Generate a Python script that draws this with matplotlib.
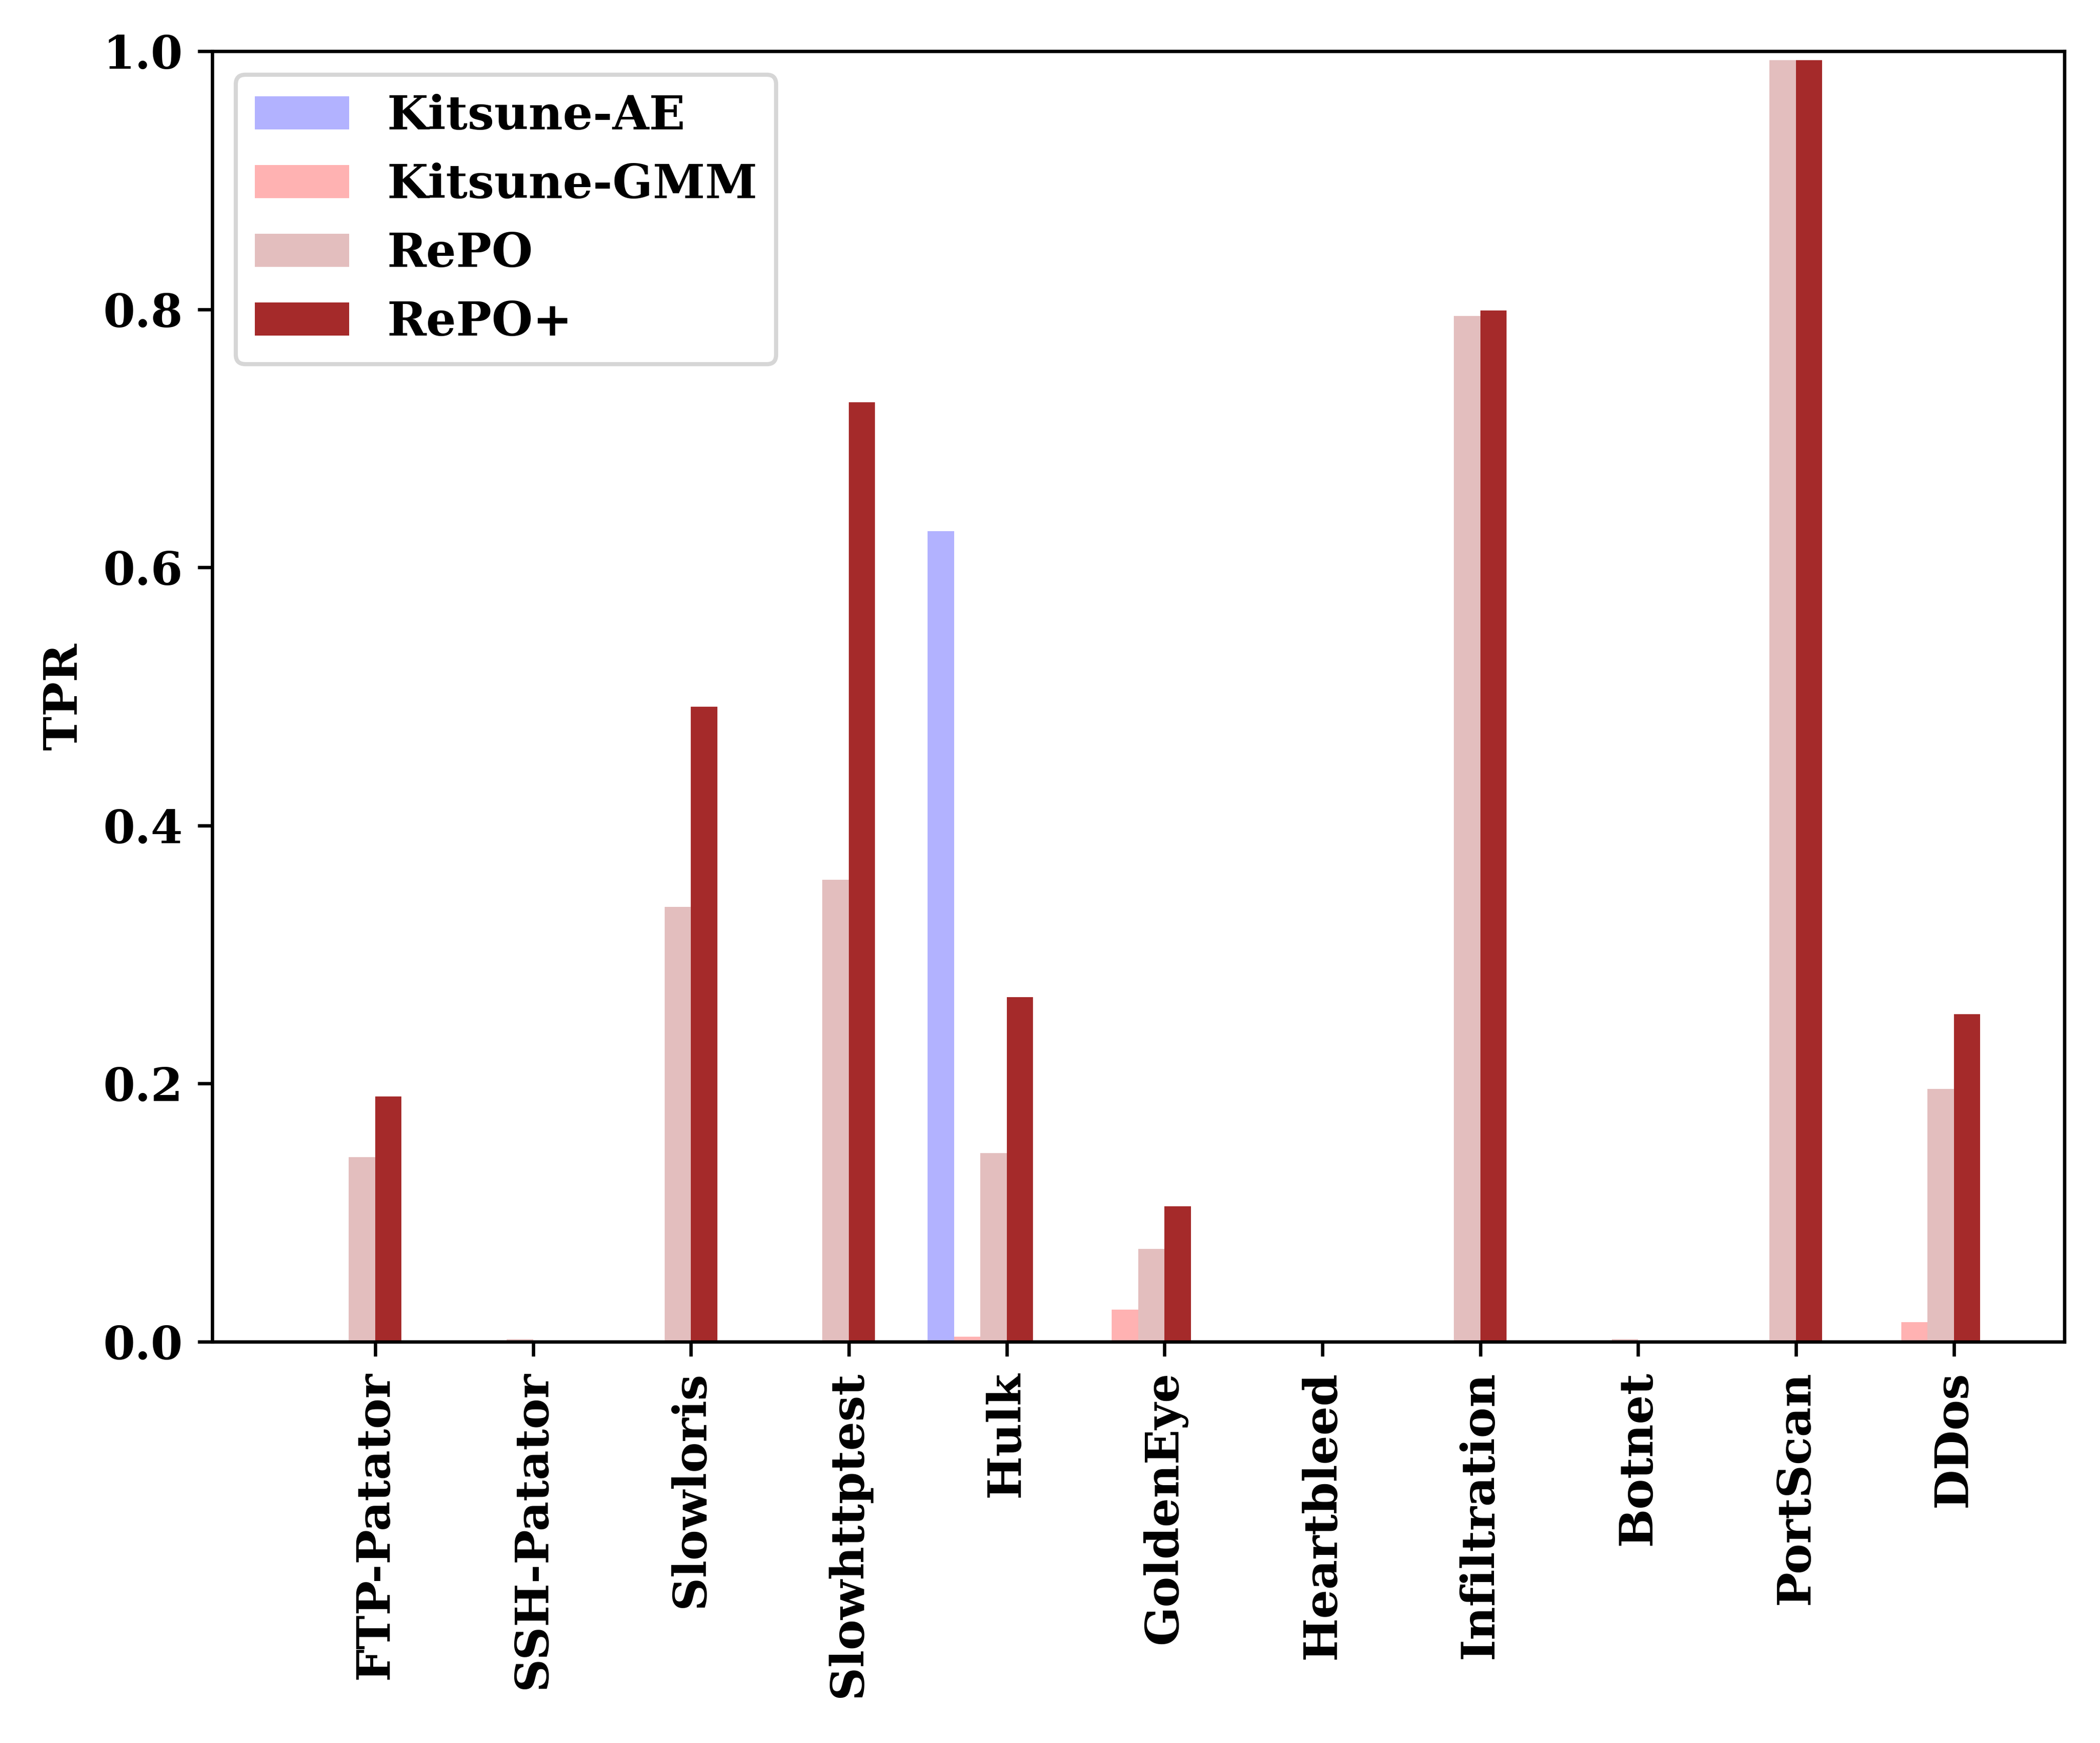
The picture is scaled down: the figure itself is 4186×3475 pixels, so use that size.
import numpy as np
import matplotlib
matplotlib.use('Agg')
import matplotlib.pyplot as plt

# attack categories on the x axis
attacks = ['FTP-Patator', 'SSH-Patator', 'Slowloris', 'Slowhttptest', 'Hulk',
           'GoldenEye', 'Heartbleed', 'Infiltration', 'Botnet', 'PortScan', 'DDos']

# TPR per method
kitsune_ae = [0, 0, 0, 0, 0.628, 0, 0, 0, 0, 0, 0]
kitsune_gmm = [0, 0, 0, 0, 0.004, 0.025, 0, 0, 0.0005, 0, 0.015]
repo = [0.143, 0.002, 0.337, 0.358, 0.146, 0.072, 0, 0.795, 0.002, 0.993, 0.196]
repo_plus = [0.190, 0, 0.492, 0.728, 0.267, 0.105, 0, 0.799, 0, 0.993, 0.254]

plt.rcParams['font.family'] = 'DejaVu Serif'
plt.rcParams['font.weight'] = 'bold'

fig = plt.figure(figsize=(4186 / 600, 3475 / 600), dpi=600)
ax = fig.add_axes([0.101, 0.2302, 0.882, 0.7404])

x = np.arange(len(attacks))
w = 1 / 6
ax.bar(x - 3 * w, kitsune_ae, w, align='edge', color='blue', alpha=0.3, label='Kitsune-AE')
ax.bar(x - 2 * w, kitsune_gmm, w, align='edge', color='red', alpha=0.3, label='Kitsune-GMM')
ax.bar(x - w, repo, w, align='edge', color='brown', alpha=0.3, label='RePO')
ax.bar(x, repo_plus, w, align='edge', color='brown', label='RePO+')

ax.set_ylim(0, 1.0)
ax.set_xticks(x)
ax.set_xticklabels(attacks, rotation=90, fontsize=11, fontweight='bold')
ax.tick_params(axis='y', labelsize=11)
for lbl in ax.get_yticklabels():
    lbl.set_fontweight('bold')
ax.set_ylabel('TPR', fontsize=11, fontweight='bold')

ax.legend(loc='upper left', prop={'weight': 'bold', 'size': 11.3})

fig.savefig('out.png', dpi=600)
